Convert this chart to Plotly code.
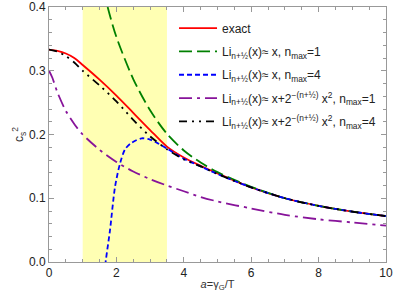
import plotly.graph_objects as go

# ---- data ----
a_exact = [0, 0.25, 0.5, 0.75, 1.0, 1.5, 2.0, 2.5, 3.0, 3.5, 4.0, 4.5, 5.0, 6.0, 7.0, 8.0, 9.0, 10.0]
c_exact = [0.333, 0.331, 0.327, 0.320, 0.309, 0.286, 0.261, 0.234, 0.207, 0.181, 0.164, 0.151, 0.139, 0.117, 0.100, 0.088, 0.079, 0.072]

a_lin1 = [1.5, 1.74, 2.0, 2.5, 3.0, 3.5, 4.0, 4.5, 5.0, 6.0, 7.0, 8.0, 9.0, 10.0]
c_lin1 = [0.455, 0.400, 0.353, 0.287, 0.238, 0.201, 0.175, 0.156, 0.141, 0.118, 0.100, 0.088, 0.079, 0.072]

a_lin4 = [1.62, 1.68, 1.81, 1.96, 2.11, 2.26, 2.45, 2.75, 3.0, 3.24, 3.5, 3.74, 4.0, 4.5, 5.0, 6.0, 7.0, 8.0, 9.0, 10.0]
c_lin4 = [-0.03, 0.0, 0.05, 0.118, 0.155, 0.177, 0.187, 0.194, 0.192, 0.186, 0.178, 0.170, 0.162, 0.150, 0.138, 0.117, 0.100, 0.088, 0.079, 0.072]

a_quad1 = [0, 0.1, 0.25, 0.5, 0.77, 1.0, 1.5, 2.0, 2.5, 3.0, 3.5, 4.0, 4.5, 5.0, 6.0, 7.0, 8.0, 9.0, 10.0]
c_quad1 = [0.300, 0.289, 0.266, 0.237, 0.215, 0.200, 0.176, 0.157, 0.142, 0.130, 0.120, 0.111, 0.102, 0.095, 0.084, 0.074, 0.067, 0.062, 0.057]

a_quad4 = [0, 0.25, 0.5, 0.75, 1.0, 1.5, 2.0, 2.5, 3.0, 3.5, 4.0, 4.5, 5.0, 6.0, 7.0, 8.0, 9.0, 10.0]
c_quad4 = [0.333, 0.330, 0.323, 0.313, 0.300, 0.277, 0.252, 0.223, 0.197, 0.177, 0.161, 0.150, 0.138, 0.117, 0.100, 0.088, 0.079, 0.072]

band = [1.0, 3.5]

names = [
    "exact",
    "Li<sub>n+½</sub>(x)≈ x, n<sub>max</sub>=1",
    "Li<sub>n+½</sub>(x)≈ x, n<sub>max</sub>=4",
    "Li<sub>n+½</sub>(x)≈ x+2<sup>−(n+½)</sup> x<sup>2</sup>, n<sub>max</sub>=1",
    "Li<sub>n+½</sub>(x)≈ x+2<sup>−(n+½)</sup> x<sup>2</sup>, n<sub>max</sub>=4",
]

series = [
    (a_exact, c_exact, "#FF0000", "solid"),
    (a_lin1, c_lin1, "#008000", "13px,5px"),
    (a_lin4, c_lin4, "#0000FF", "5px,3px"),
    (a_quad1, c_quad1, "#87139A", "13px,5px,3px,5px"),
    (a_quad4, c_quad4, "#000000", "8px,5px,2px,5px,2px,5px"),
]

fig = go.Figure()
for i, ((xs, ys, col, dash), nm) in enumerate(zip(series, names)):
    fig.add_trace(go.Scatter(
        x=xs, y=ys, mode="lines", name=nm, legendgroup=f"g{i}",
        line=dict(color=col, width=1.8, dash=dash, shape="spline", smoothing=0.8),
    ))

fig.add_shape(type="rect", x0=band[0], x1=band[1], y0=0, y1=0.4,
              xref="x", yref="y", fillcolor="#FFFFB3", line_width=0, layer="below")

font = "Liberation Sans, Arial, sans-serif"
axis_common = dict(
    showline=True, linecolor="#999999", linewidth=1, mirror="allticks",
    ticks="inside", ticklen=5, tickcolor="#999999", showgrid=False, zeroline=False,
    tickfont=dict(family=font, size=12, color="#222222"), automargin=False,
)

fig.update_xaxes(range=[0, 10], tickvals=[0, 2, 4, 6, 8, 10],
                 minor=dict(dtick=0.5, ticklen=3, tickcolor="#999999", ticks="inside"),
                 title=dict(text="<i>a</i>=γ<sub>G</sub>/T", font=dict(family=font, size=11, color="#333333"), standoff=0),
                 **axis_common)
fig.update_yaxes(range=[0, 0.4], tickvals=[0, 0.1, 0.2, 0.3, 0.4], tickformat=".1f",
                 minor=dict(dtick=0.02, ticklen=3, tickcolor="#999999", ticks="inside"),
                 title=dict(text="c<sub>s</sub><sup>2</sup>", font=dict(family=font, size=12, color="#333333"), standoff=2),
                 **axis_common)

fig.update_layout(
    width=395, height=302,
    margin=dict(l=49, r=9, t=7, b=40, autoexpand=False),
    paper_bgcolor="white", plot_bgcolor="white",
    font=dict(family=font, size=12, color="#222222"),
    legend=dict(x=0.371, y=0.974, xanchor="left", yanchor="top",
                bgcolor="rgba(255,255,255,0)", borderwidth=0,
                font=dict(family=font, size=12, color="#222222"),
                tracegroupgap=4.3, itemwidth=38),
    showlegend=True,
)

fig.write_html("out.html", config={"displayModeBar": False},
               post_script="document.body.style.margin='0px';")
